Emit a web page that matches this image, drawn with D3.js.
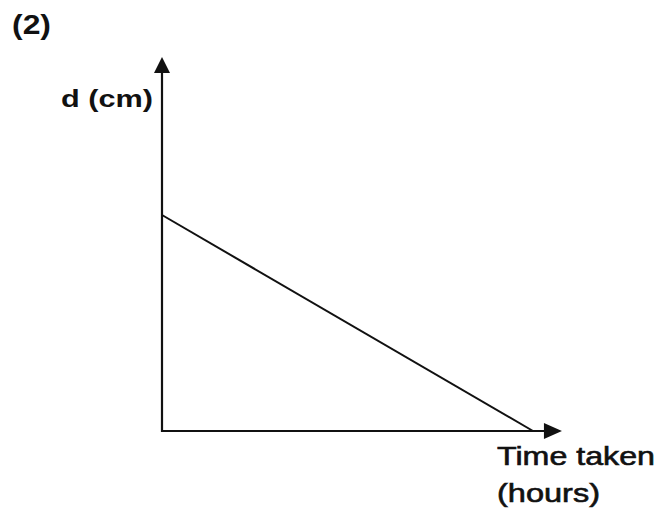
<!DOCTYPE html>
<html><head><meta charset="utf-8">
<script src="https://cdn.jsdelivr.net/npm/d3@7"></script>
<style>body{margin:0;background:#fff}svg{display:block}</style>
</head><body>
<script>
// Data
const timeValues = [0, 10];      // time taken (hours, arbitrary units)
const dValues = [6, 0];          // d (cm)
const panelLabel = "(2)";
const yLabel = "d (cm)";
const xLabelLines = ["Time taken", "(hours)"];

const W = 662, H = 513;
const svg = d3.select("body").append("svg").attr("width", W).attr("height", H);

const x = d3.scaleLinear().domain([0, 10]).range([162, 533]);
const y = d3.scaleLinear().domain([0, 6]).range([431, 215]);
const xMax = 10.78, yMax = 10.39;
const ink = "#111";

// axes
svg.append("line").attr("x1", x(0)).attr("x2", x(xMax) - 8).attr("y1", y(0)).attr("y2", y(0))
  .attr("stroke", ink).attr("stroke-width", 2);
svg.append("line").attr("x1", x(0)).attr("x2", x(0)).attr("y1", y(0) + 1).attr("y2", y(yMax) + 8)
  .attr("stroke", ink).attr("stroke-width", 2.2);
// arrowheads
const ax = x(xMax), ay = y(0);
svg.append("path").attr("d", `M${ax},${ay} L${ax - 18},${ay - 8} L${ax - 18},${ay + 8} Z`).attr("fill", ink);
const bx = x(0), by = y(yMax);
svg.append("path").attr("d", `M${bx},${by} L${bx - 8},${by + 16} L${bx + 8},${by + 16} Z`).attr("fill", ink);

// data line
const line = d3.line().x((d, i) => x(timeValues[i])).y(d => y(d));
svg.append("path").datum(dValues).attr("d", line).attr("fill", "none")
  .attr("stroke", ink).attr("stroke-width", 2);

// texts
const font = "Liberation Sans, Arial, sans-serif";
svg.append("text").attr("x", 12).attr("y", 34).attr("font-family", font).attr("font-weight", "bold")
  .attr("font-size", 27).attr("textLength", 39).attr("lengthAdjust", "spacingAndGlyphs")
  .attr("fill", ink).text(panelLabel);
svg.append("text").attr("x", 61).attr("y", 107).attr("font-family", font).attr("font-weight", "bold")
  .attr("font-size", 24).attr("textLength", 92).attr("lengthAdjust", "spacingAndGlyphs")
  .attr("fill", ink).text(yLabel);
svg.append("text").attr("x", 497).attr("y", 465).attr("font-family", font)
  .attr("font-size", 25).attr("textLength", 158).attr("lengthAdjust", "spacingAndGlyphs")
  .attr("fill", ink).attr("stroke", ink).attr("stroke-width", 0.6).text(xLabelLines[0]);
svg.append("text").attr("x", 497).attr("y", 502).attr("font-family", font)
  .attr("font-size", 25).attr("textLength", 103).attr("lengthAdjust", "spacingAndGlyphs")
  .attr("fill", ink).attr("stroke", ink).attr("stroke-width", 0.6).text(xLabelLines[1]);
</script>
</body></html>
